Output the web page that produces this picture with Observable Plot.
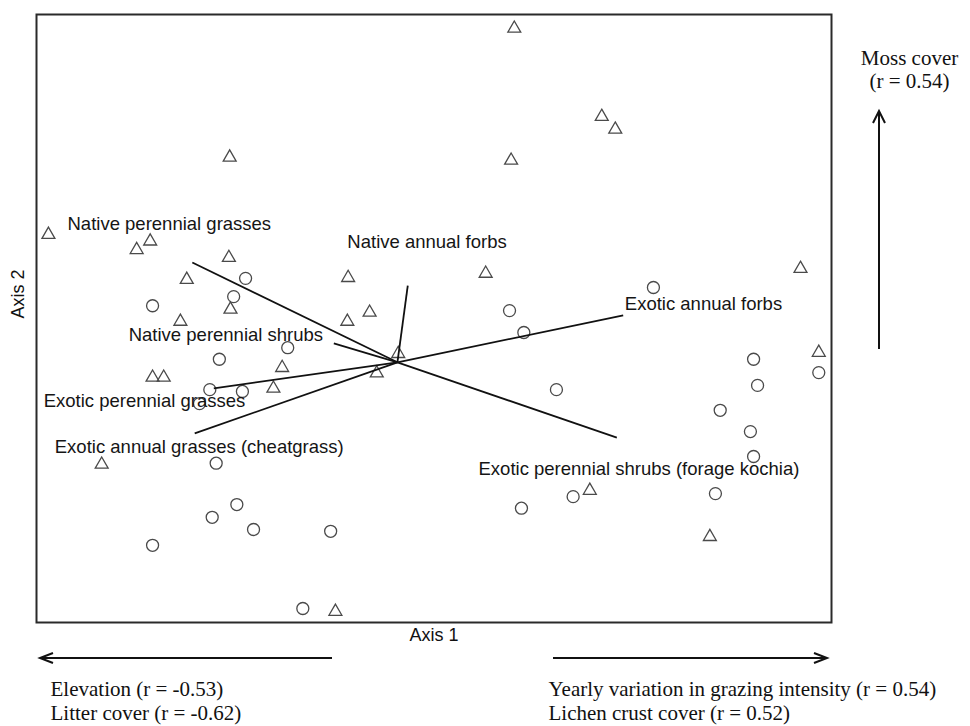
<!DOCTYPE html>
<html><head><meta charset="utf-8">
<script src="https://cdn.jsdelivr.net/npm/d3@7"></script>
<script src="https://cdn.jsdelivr.net/npm/@observablehq/plot@0.6"></script>
<style>
body{margin:0;background:#fff}
#chart{position:relative;width:970px;height:726px}
</style>
</head><body><div id="chart"></div>
<script>
// Site scores (ordination Axis 1 / Axis 2, arbitrary units 0-100)
const triangleAxis1 = [24.3, 1.5, 12.6, 14.3, 24.2, 18.9, 24.4, 18.1, 39.2, 41.9, 39.1, 60.1, 71.1, 72.8, 59.7, 56.5, 96.1, 45.5, 30.9, 14.6, 16.0, 42.8, 29.8, 8.2, 37.6, 98.4, 69.6, 84.7];
const triangleAxis2 = [76.5, 63.8, 61.3, 62.7, 60.0, 56.4, 51.5, 49.5, 56.7, 51.0, 49.5, 97.7, 83.2, 81.1, 76.0, 57.4, 58.2, 44.2, 41.9, 40.3, 40.3, 41.0, 38.5, 26.0, 1.8, 44.4, 21.7, 14.1];
const circleAxis1 = [26.3, 24.8, 14.6, 77.6, 59.5, 61.3, 31.6, 23.0, 21.8, 25.9, 20.5, 22.6, 25.2, 22.1, 27.3, 37.0, 14.6, 33.5, 65.4, 90.2, 90.7, 86.0, 89.8, 90.2, 98.4, 67.5, 61.0, 85.4];
const circleAxis2 = [56.6, 53.6, 52.1, 55.1, 51.3, 47.7, 45.2, 43.3, 38.3, 38.0, 36.0, 26.2, 19.4, 17.3, 15.3, 15.0, 12.7, 2.3, 38.3, 43.3, 39.0, 34.9, 31.4, 27.3, 41.1, 20.7, 18.8, 21.2];

// Functional group vectors (joint plot), from the centroid
const vectorOrigin = [45.4, 42.8];
const vectorNames = ["Native perennial grasses", "Native annual forbs", "Exotic annual forbs", "Native perennial shrubs", "Exotic perennial grasses", "Exotic annual grasses (cheatgrass)", "Exotic perennial shrubs (forage kochia)"];
const vectorAxis1 = [19.6, 46.7, 73.8, 37.4, 22.3, 19.9, 73.0];
const vectorAxis2 = [59.2, 55.4, 50.5, 45.9, 38.5, 31.1, 30.4];
// label anchors (left edge of text)
const labelAxis1 = [3.9, 39.1, 74.0, 11.6, 0.9, 2.3, 55.6];
const labelAxis2 = [65.5, 62.5, 52.3, 47.2, 36.5, 28.9, 25.2];

// Environmental correlates shown outside the plot
const axis1Negative = ["Elevation (r = -0.53)", "Litter cover (r = -0.62)"];
const axis1Positive = ["Yearly variation in grazing intensity (r = 0.54)", "Lichen crust cover (r = 0.52)"];
const axis2Positive = ["Moss cover", "(r = 0.54)"];

const triangles = triangleAxis1.map((x, i) => ({x, y: triangleAxis2[i]}));
const circles = circleAxis1.map((x, i) => ({x, y: circleAxis2[i]}));
const vectors = vectorNames.map((name, i) => ({name, x2: vectorAxis1[i], y2: vectorAxis2[i], lx: labelAxis1[i], ly: labelAxis2[i]}));

const sans = "'Liberation Sans', Arial, sans-serif";
const serif = "'Liberation Serif', 'Times New Roman', serif";

const plot = Plot.plot({
  width: 970, height: 726,
  marginLeft: 36, marginRight: 139, marginTop: 14, marginBottom: 104,
  x: {domain: [0, 100], axis: null},
  y: {domain: [0, 100], axis: null},
  style: {background: "#fff", fontFamily: sans},
  marks: [
    Plot.dot(triangles, {x: "x", y: "y", symbol: "triangle", r: 4.8, fill: "none", stroke: "#4a4a4a", strokeWidth: 1.3}),
    Plot.dot(circles, {x: "x", y: "y", symbol: "circle", r: 6, fill: "none", stroke: "#4a4a4a", strokeWidth: 1.3}),
    Plot.link(vectors, {x1: () => vectorOrigin[0], y1: () => vectorOrigin[1], x2: "x2", y2: "y2", stroke: "#111", strokeWidth: 1.8}),
    Plot.text(vectors, {x: "lx", y: "ly", text: "name", textAnchor: "start", fontSize: 18.5, fill: "#151515", fontFamily: sans}),
    Plot.frame({stroke: "#2a2a2a", strokeWidth: 2}),
    Plot.text(["Axis 1"], {frameAnchor: "bottom", dy: 18, fontSize: 18, fill: "#111", fontFamily: sans}),
    Plot.text(["Axis 2"], {frameAnchor: "left", dx: -18, rotate: -90, fontSize: 18, fill: "#111", fontFamily: sans}),
    Plot.text([axis1Negative.join("\n")], {frameAnchor: "bottom-left", dx: 14, dy: 77.5, lineAnchor: "middle", lineHeight: 1.14, textAnchor: "start", fontSize: 21, fill: "#111", fontFamily: serif}),
    Plot.text([axis1Positive.join("\n")], {frameAnchor: "bottom-left", dx: 512, dy: 77.5, lineAnchor: "middle", lineHeight: 1.14, textAnchor: "start", fontSize: 21, fill: "#111", fontFamily: serif}),
    Plot.text([axis2Positive.join("\n")], {frameAnchor: "top-right", dx: 78, dy: 55, lineAnchor: "middle", lineHeight: 1.1, textAnchor: "middle", fontSize: 21, fill: "#111", fontFamily: serif})
  ]
});
document.getElementById("chart").appendChild(plot);

// Direction arrows for environmental correlates (layout relative to the frame)
const svg = d3.select(plot);
const [fx0, fx1] = plot.scale("x").range;
const [fy0, fy1] = plot.scale("y").range; // fy0 = bottom, fy1 = top
const g = svg.append("g").attr("stroke", "#111").attr("stroke-width", 2).attr("fill", "none");
const ya = fy0 + 36;
// left arrow
g.append("line").attr("x1", fx0 + 296).attr("y1", ya).attr("x2", fx0 + 4).attr("y2", ya);
g.append("polyline").attr("points", `${fx0+17},${ya-5} ${fx0+4},${ya} ${fx0+17},${ya+5}`);
// right arrow
g.append("line").attr("x1", fx0 + 517).attr("y1", ya).attr("x2", fx1 - 4).attr("y2", ya);
g.append("polyline").attr("points", `${fx1-17},${ya-5} ${fx1-4},${ya} ${fx1-17},${ya+5}`);
// vertical arrow
const xa = fx1 + 48;
g.append("line").attr("x1", xa).attr("y1", fy1 + 335).attr("x2", xa).attr("y2", fy1 + 97);
g.append("polyline").attr("points", `${xa-6},${fy1+109} ${xa},${fy1+97} ${xa+6},${fy1+109}`);
</script>
</body></html>
